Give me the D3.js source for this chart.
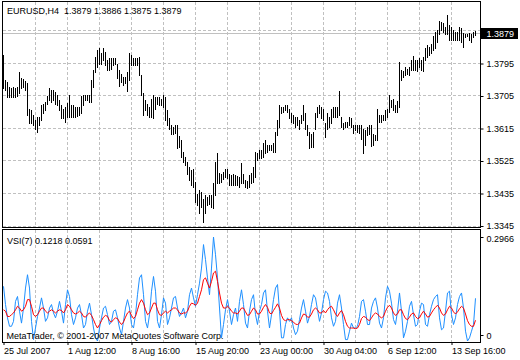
<!DOCTYPE html>
<html>
<head>
<meta charset="utf-8">
<script src="https://cdn.jsdelivr.net/npm/d3@7"></script>
<style>
body { margin: 0; background: #fff; }
text { font-family: "Liberation Sans", Arial, sans-serif; font-size: 9px; fill: #000; }
</style>
</head>
<body>
<div id="main"></div>
<script>
const Width = 520, Height = 360;

// EURUSD H4 bars, high / low in 1/10000 units
const highs = [13818,13749,13744,13729,13726,13729,13726,13729,13772,13754,
13751,13747,13740,13668,13666,13652,13638,13646,13647,13680,
13684,13689,13705,13726,13721,13721,13717,13707,13695,13680,
13670,13675,13686,13707,13680,13680,13675,13675,13675,13705,
13707,13707,13707,13707,13749,13777,13813,13832,13837,13823,
13837,13827,13804,13809,13809,13809,13809,13795,13777,13767,
13758,13758,13772,13823,13818,13809,13809,13809,13813,13763,
13712,13694,13684,13675,13698,13707,13703,13701,13703,13698,
13707,13701,13666,13643,13624,13620,13624,13624,13594,13583,
13550,13537,13523,13509,13500,13502,13467,13435,13444,13440,
13421,13430,13426,13430,13430,13463,13523,13546,13492,13490,
13495,13502,13504,13490,13486,13488,13486,13483,13481,13520,
13490,13472,13470,13486,13492,13507,13550,13546,13555,13555,
13574,13583,13569,13569,13569,13574,13606,13638,13680,13675,
13675,13680,13680,13670,13657,13652,13647,13647,13638,13652,
13680,13657,13624,13606,13601,13606,13657,13675,13680,13675,
13670,13629,13657,13647,13670,13675,13675,13675,13718,13647,
13629,13634,13634,13647,13643,13624,13624,13624,13624,13624,
13615,13610,13620,13624,13624,13601,13597,13668,13652,13652,
13652,13666,13670,13707,13695,13698,13680,13692,13800,13777,
13774,13784,13781,13784,13806,13816,13806,13804,13809,13804,
13813,13837,13846,13841,13850,13871,13883,13887,13913,13910,
13908,13896,13929,13901,13896,13887,13883,13883,13896,13892,
13880,13878,13876,13880,13878,13883,13886];
const lows = [13726,13721,13703,13701,13703,13703,13701,13705,13712,13726,
13730,13721,13652,13631,13629,13624,13615,13606,13624,13638,
13657,13666,13682,13694,13689,13694,13684,13680,13666,13643,
13643,13634,13646,13646,13647,13646,13647,13649,13652,13657,
13680,13694,13694,13689,13689,13730,13772,13786,13795,13795,
13804,13790,13777,13778,13781,13790,13795,13754,13732,13744,
13735,13740,13719,13749,13790,13790,13790,13792,13763,13707,
13652,13666,13652,13647,13647,13643,13670,13684,13680,13680,
13675,13638,13624,13615,13601,13599,13603,13560,13564,13537,
13523,13514,13490,13472,13458,13454,13412,13403,13380,13398,
13357,13380,13403,13407,13398,13394,13430,13463,13463,13467,
13474,13481,13477,13458,13458,13458,13458,13458,13454,13463,
13463,13454,13449,13454,13463,13467,13481,13527,13532,13532,
13537,13546,13550,13555,13555,13550,13550,13597,13620,13657,
13661,13666,13661,13643,13634,13629,13620,13624,13615,13629,
13638,13615,13597,13560,13564,13564,13615,13647,13657,13643,
13638,13592,13615,13620,13629,13647,13647,13647,13652,13620,
13615,13620,13620,13624,13620,13603,13610,13606,13603,13587,
13548,13569,13597,13601,13566,13569,13583,13583,13634,13634,
13638,13638,13647,13661,13675,13666,13661,13661,13675,13749,
13758,13763,13767,13763,13777,13778,13777,13775,13786,13777,
13775,13804,13813,13818,13823,13832,13837,13855,13878,13887,
13883,13878,13878,13860,13860,13860,13860,13860,13860,13855,
13841,13869,13871,13860,13855,13869,13875];

// VSI(7) main buffer and signal buffer
const vsi = [0.156,0.104,0.066,0.042,0.042,0.056,0.113,0.127,0.085,0.051,
0.094,0.151,0.189,0.151,0.056,0.004,0.037,0.070,0.094,0.123,
0.094,0.056,0.066,0.094,0.104,0.080,0.066,0.085,0.113,0.085,
0.051,0.104,0.146,0.127,0.075,0.047,0.066,0.094,0.104,0.075,
0.037,0.047,0.085,0.108,0.075,0.037,0.009,0.000,0.037,0.066,
0.094,0.099,0.075,0.047,0.056,0.085,0.089,0.066,0.037,0.018,
0.056,0.094,0.118,0.094,0.047,0.037,0.075,0.132,0.180,0.189,
0.132,0.056,0.037,0.075,0.142,0.184,0.142,0.056,0.037,0.075,
0.123,0.108,0.047,0.066,0.094,0.123,0.127,0.094,0.070,0.080,
0.094,0.066,0.085,0.132,0.151,0.123,0.099,0.132,0.165,0.208,
0.275,0.232,0.180,0.132,0.208,0.2966,0.246,0.180,0.094,0.009,
0.047,0.089,0.118,0.085,0.047,0.075,0.094,0.056,0.113,0.146,
0.104,0.051,0.037,0.085,0.118,0.132,0.075,0.047,0.085,0.104,
0.137,0.146,0.085,0.037,0.075,0.118,0.151,0.161,0.085,0.009,
0.009,0.047,0.066,0.056,0.066,0.037,0.018,0.028,0.061,0.094,
0.118,0.085,0.051,0.070,0.104,0.132,0.123,0.089,0.056,0.080,
0.118,0.142,0.137,0.113,0.066,0.042,0.056,0.108,0.132,0.094,
0.047,0.004,0.004,0.028,0.051,0.037,0.037,0.042,0.070,0.113,
0.118,0.085,0.047,0.047,0.094,0.113,0.123,0.094,0.051,0.037,
0.066,0.123,0.156,0.142,0.108,0.061,0.047,0.085,0.137,0.085,
0.009,0.028,0.056,0.099,0.113,0.075,0.042,0.047,0.085,0.108,
0.104,0.047,0.042,0.075,0.099,0.118,0.127,0.132,0.066,0.032,
0.037,0.085,0.137,0.142,0.075,0.047,0.066,0.104,0.127,0.137,
0.094,0.028,0.000,0.009,0.028,0.047,0.1218];
const signal = [0.089,0.085,0.070,0.070,0.075,0.080,0.089,0.099,0.094,0.085,
0.089,0.099,0.118,0.118,0.099,0.075,0.070,0.075,0.085,0.094,
0.094,0.085,0.080,0.085,0.089,0.085,0.080,0.085,0.089,0.087,
0.080,0.089,0.104,0.099,0.089,0.080,0.077,0.080,0.085,0.080,
0.070,0.068,0.075,0.080,0.073,0.061,0.047,0.037,0.047,0.058,
0.068,0.073,0.070,0.058,0.054,0.061,0.066,0.064,0.054,0.047,
0.054,0.068,0.080,0.085,0.073,0.064,0.070,0.089,0.108,0.118,
0.108,0.089,0.075,0.080,0.094,0.108,0.108,0.089,0.075,0.073,
0.080,0.085,0.080,0.085,0.089,0.094,0.094,0.089,0.080,0.077,
0.080,0.080,0.085,0.099,0.108,0.106,0.102,0.108,0.127,0.146,
0.175,0.180,0.165,0.151,0.170,0.194,0.199,0.170,0.137,0.108,
0.094,0.094,0.099,0.094,0.085,0.080,0.080,0.077,0.085,0.094,
0.094,0.083,0.073,0.075,0.085,0.094,0.089,0.077,0.077,0.085,
0.096,0.104,0.096,0.080,0.077,0.087,0.096,0.106,0.094,0.073,
0.061,0.058,0.061,0.061,0.058,0.054,0.048,0.047,0.051,0.066,
0.077,0.075,0.068,0.068,0.077,0.089,0.094,0.089,0.080,0.080,
0.087,0.080,0.089,0.096,0.099,0.089,0.077,0.070,0.080,0.087,
0.075,0.056,0.042,0.037,0.037,0.037,0.035,0.037,0.047,0.064,
0.070,0.068,0.061,0.058,0.066,0.075,0.080,0.077,0.070,0.066,
0.070,0.085,0.096,0.102,0.094,0.080,0.073,0.077,0.089,0.089,
0.075,0.064,0.061,0.068,0.077,0.080,0.070,0.064,0.066,0.077,
0.085,0.077,0.068,0.070,0.080,0.089,0.096,0.102,0.094,0.080,
0.073,0.077,0.089,0.099,0.094,0.083,0.077,0.083,0.092,0.099,
0.094,0.077,0.058,0.047,0.042,0.042,0.0591];

const timeTicks = [0, 32, 64, 96, 128, 160, 192, 224];
const timeLabels = ["25 Jul 2007", "1 Aug 12:00", "8 Aug 16:00", "15 Aug 20:00",
                    "23 Aug 00:00", "30 Aug 04:00", "6 Sep 12:00", "13 Sep 16:00"];
const priceLabels = [1.3795, 1.3705, 1.3615, 1.3525, 1.3435, 1.3345];
const priceGrid = [1.3885, 1.3795, 1.3705, 1.3615, 1.3525, 1.3435, 1.3345];
const vsiLabels = [0.2966, 0];
const lastBar = {symbol: "EURUSD,H4", open: 1.3879, high: 1.3886, low: 1.3875, close: 1.3879};
const vsiTitle = "VSI(7)";

const svg = d3.select("#main")
    .append("svg")
    .attr("width", Width)
    .attr("height", Height)
    .style("display", "block")
;

const pane = {left: 2.5, right: 480.5, top: 1.5, bottom: 227.5};
const sub = {top: 229.5, bottom: 342.5};

let Xscale = d3.scaleLinear().domain([0, 236]).range([3.5, 475.5]);
let Pscale = d3.scaleLinear().domain([1.3345, 1.3795]).range([226, 63.5]);
let Vscale = d3.scaleLinear().domain([0, 0.2966]).range([341, 237]);
const crisp = v => Math.round(v - 0.5) + 0.5;

// grid
const grid = svg.append("g").attr("stroke", "#c0c0c0").attr("stroke-dasharray", "3,2").attr("shape-rendering", "crispEdges");
grid.selectAll("line.h").data(priceGrid).enter().append("line")
    .attr("x1", pane.left).attr("x2", pane.right)
    .attr("y1", d => crisp(Pscale(d))).attr("y2", d => crisp(Pscale(d)));
const vgrid = d3.range(16, 237, 16);
grid.selectAll("line.v").data(vgrid).enter().append("line")
    .attr("x1", d => Xscale(d)).attr("x2", d => Xscale(d))
    .attr("y1", pane.top).attr("y2", pane.bottom);
grid.selectAll("line.v2").data(vgrid).enter().append("line")
    .attr("x1", d => Xscale(d)).attr("x2", d => Xscale(d))
    .attr("y1", sub.top).attr("y2", sub.bottom);

// bid line
svg.append("line")
    .attr("x1", pane.left).attr("x2", pane.right)
    .attr("y1", crisp(Pscale(lastBar.close))).attr("y2", crisp(Pscale(lastBar.close)))
    .attr("stroke", "#c0c0c0").attr("shape-rendering", "crispEdges");

// bars
svg.append("g").selectAll("line").data(highs).enter().append("line")
    .attr("x1", (d, i) => Xscale(i)).attr("x2", (d, i) => Xscale(i))
    .attr("y1", d => Math.round(Pscale(d / 10000)))
    .attr("y2", (d, i) => Math.round(Pscale(lows[i] / 10000)) + 1)
    .attr("stroke", "#000").attr("shape-rendering", "crispEdges");

// indicator lines
const vline = d3.line().x((d, i) => Xscale(i)).y(d => Vscale(d));
svg.append("path").datum(vsi).attr("d", vline)
    .attr("fill", "none").attr("stroke", "#1e90ff").attr("stroke-width", 1);
svg.append("path").datum(signal).attr("d", vline)
    .attr("fill", "none").attr("stroke", "#ff0000").attr("stroke-width", 1);

// frames
svg.append("rect").attr("x", pane.left).attr("y", pane.top)
    .attr("width", pane.right - pane.left).attr("height", pane.bottom - pane.top)
    .attr("fill", "none").attr("stroke", "#000").attr("shape-rendering", "crispEdges");
svg.append("rect").attr("x", pane.left).attr("y", sub.top)
    .attr("width", pane.right - pane.left).attr("height", sub.bottom - sub.top)
    .attr("fill", "none").attr("stroke", "#000").attr("shape-rendering", "crispEdges");

// price axis
const pax = svg.append("g").attr("transform", `translate(${pane.right},0)`)
    .call(d3.axisRight(Pscale).tickValues(priceLabels).tickSize(3).tickFormat(d3.format(".4f")));
pax.select(".domain").remove();
pax.selectAll("text").attr("font-family", null).attr("font-size", null).attr("x", 6);

// indicator axis
const vax = svg.append("g").attr("transform", `translate(${pane.right},0)`)
    .call(d3.axisRight(Vscale).tickValues(vsiLabels).tickSize(3).tickFormat(d => d === 0 ? "0" : d3.format(".4f")(d)));
vax.select(".domain").remove();
vax.selectAll("text").attr("font-family", null).attr("font-size", null).attr("x", 6)
    .attr("dy", d => d === 0 ? "-0.3em" : "0.45em");
vax.selectAll("line").attr("transform", d => d === 0 ? "translate(0,-6)" : "");

// time axis
const tax = svg.append("g").attr("transform", `translate(0,${sub.bottom - 0.5})`)
    .call(d3.axisBottom(Xscale).tickValues(timeTicks).tickSize(3).tickFormat((d, i) => timeLabels[i]));
tax.select(".domain").remove();
tax.selectAll("text").attr("font-family", null).attr("font-size", null)
    .attr("text-anchor", "start").attr("x", 0);

// bid label
const by = crisp(Pscale(lastBar.close));
svg.append("rect").attr("x", 481).attr("y", by - 5.5).attr("width", 37).attr("height", 11).attr("fill", "#000");
svg.append("text").attr("x", 486.5).attr("y", by + 3).style("fill", "#fff").text(lastBar.close.toFixed(4));

// captions
const f4 = d3.format(".4f");
svg.append("text").attr("x", 7).attr("y", 14).style("white-space", "pre")
    .text(`${lastBar.symbol}  ${f4(lastBar.open)} ${f4(lastBar.high)} ${f4(lastBar.low)} ${f4(lastBar.close)}`);
svg.append("text").attr("x", 7).attr("y", 243.5)
    .text(`${vsiTitle} ${f4(vsi[vsi.length - 1])} ${f4(signal[signal.length - 1])}`);
svg.append("text").attr("x", 6.5).attr("y", 338.5)
    .text("MetaTrader, \u00a9 2001-2007 MetaQuotes Software Corp.");
</script>
</body>
</html>
